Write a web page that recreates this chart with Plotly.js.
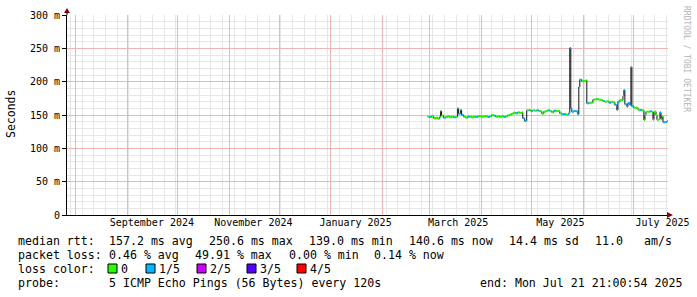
<!DOCTYPE html>
<html><head><meta charset="utf-8">
<script src="https://cdn.plot.ly/plotly-3.0.1.min.js"></script>
<style>html,body{margin:0;padding:0;background:#fff}</style>
</head><body><div id="chart" style="width:697px;height:297px"></div>
<script>
// ---- data ----
const times = ["2025-02-27 20:00","2025-03-01 01:00","2025-03-02 06:00","2025-03-03 11:00","2025-03-04 16:00","2025-03-05 21:00","2025-03-07 01:00","2025-03-07 16:00","2025-03-08 06:00","2025-03-09 11:00","2025-03-10 16:00","2025-03-11 21:00","2025-03-13 01:00","2025-03-14 06:00","2025-03-15 11:00","2025-03-16 16:00","2025-03-17 21:00","2025-03-18 11:00","2025-03-19 16:00","2025-03-20 06:00","2025-03-21 11:00","2025-03-22 16:00","2025-03-23 21:00","2025-03-25 01:00","2025-03-26 06:00","2025-03-27 11:00","2025-03-28 16:00","2025-03-29 21:00","2025-03-31 01:00","2025-04-01 06:00","2025-04-02 11:00","2025-04-03 16:00","2025-04-04 21:00","2025-04-06 01:00","2025-04-07 06:00","2025-04-08 11:00","2025-04-09 16:00","2025-04-10 21:00","2025-04-12 01:00","2025-04-13 06:00","2025-04-14 11:00","2025-04-15 16:00","2025-04-16 21:00","2025-04-18 01:00","2025-04-19 06:00","2025-04-20 11:00","2025-04-21 16:00","2025-04-22 21:00","2025-04-24 01:00","2025-04-25 06:00","2025-04-25 21:00","2025-04-27 01:00","2025-04-28 06:00","2025-04-29 11:00","2025-04-30 16:00","2025-05-01 21:00","2025-05-03 01:00","2025-05-04 06:00","2025-05-05 11:00","2025-05-06 16:00","2025-05-07 06:00","2025-05-08 11:00","2025-05-09 16:00","2025-05-10 21:00","2025-05-12 01:00","2025-05-13 06:00","2025-05-14 11:00","2025-05-15 16:00","2025-05-16 21:00","2025-05-18 01:00","2025-05-19 06:00","2025-05-20 11:00","2025-05-21 16:00","2025-05-22 21:00","2025-05-23 11:00","2025-05-24 01:00","2025-05-24 16:00","2025-05-25 06:00","2025-05-26 11:00","2025-05-27 16:00","2025-05-28 21:00","2025-05-29 11:00","2025-05-30 01:00","2025-05-31 06:00","2025-06-01 11:00","2025-06-02 16:00","2025-06-03 06:00","2025-06-04 11:00","2025-06-05 16:00","2025-06-06 21:00","2025-06-08 01:00","2025-06-09 06:00","2025-06-10 11:00","2025-06-11 16:00","2025-06-12 21:00","2025-06-14 01:00","2025-06-15 06:00","2025-06-16 11:00","2025-06-17 16:00","2025-06-18 21:00","2025-06-20 01:00","2025-06-21 06:00","2025-06-21 21:00","2025-06-23 01:00","2025-06-24 06:00","2025-06-24 21:00","2025-06-25 11:00","2025-06-26 01:00","2025-06-27 06:00","2025-06-27 21:00","2025-06-29 01:00","2025-06-29 16:00","2025-06-30 06:00","2025-07-01 11:00","2025-07-02 16:00","2025-07-03 21:00","2025-07-05 01:00","2025-07-06 06:00","2025-07-07 11:00","2025-07-08 01:00","2025-07-08 16:00","2025-07-09 21:00","2025-07-11 01:00","2025-07-12 06:00","2025-07-12 21:00","2025-07-13 11:00","2025-07-14 16:00","2025-07-15 06:00","2025-07-16 11:00","2025-07-17 01:00","2025-07-17 16:00","2025-07-18 06:00","2025-07-18 21:00","2025-07-20 01:00","2025-07-21 06:00"];
const medianMs = [147.5,147,148,145,146,144.5,147,156,149,146,147,148,146.5,147.5,146.5,147,160,152,157.5,150,147.5,146,147.5,147.5,146.5,147.5,147,148,148.5,147.5,148,148,147,148,150,149,147.5,148,147,148,147,148,149.5,150.5,152,153.5,152.5,154,153,154,145,141,157,157.5,156,157,156.5,157,156,155.5,152,155,156,157,156,154,156.5,156,156,152.5,151,151.5,150.5,151,153,250.6,160,155,156,155.5,151,192,203,200.5,201,202,167.5,168,168.5,173,173.5,174,173,172.5,171,170,170.5,168.5,170,169,165,157.5,170,172.5,172,178,187.5,166,162.5,168,165,222,163,161,161,158,157.5,157,142.5,150,155,155,155.5,154.5,143,155,150,143,144,154,143.5,148,139,139.5,140.6];
const lossIdx = [0,1,0,0,0,0,0,0,0,1,0,0,0,0,1,0,0,1,1,1,0,0,1,0,0,0,1,0,0,0,0,0,1,0,0,1,0,0,0,0,1,0,0,0,0,0,1,0,0,0,1,1,0,0,1,0,0,1,0,0,0,0,0,1,0,0,1,0,0,0,1,1,0,1,1,1,1,1,1,1,1,1,1,0,0,0,1,0,0,0,0,0,0,0,1,0,0,1,0,0,1,1,1,0,0,0,1,1,1,1,1,1,1,0,0,0,1,0,0,0,0,0,1,0,0,0,0,0,0,1,0,0,1,1,1];
const endTime = "2025-07-21 21:00";
const startTime = "2024-07-26 21:00";

const monthLabelDates = ["2024-09-15 17:00","2024-11-15 12:00","2025-01-15 17:00","2025-03-18 05:00","2025-05-18 10:00","2025-07-18 14:00"];
const monthLabels = ["September 2024","November 2024","January 2025","March 2025","May 2025","July 2025"];
const yTickVals = [0,50,100,150,200,250,300];
const yTickText = ["0","50 m","100 m","150 m","200 m","250 m","300 m"];

const lossLabels = ["0","1/5","2/5","3/5","4/5"];
const lossColors = ["#26ff00","#00b8ff","#cc00ff","#5500ff","#ff0000"];

const rttStats = ["157.2 ms avg","250.6 ms max","139.0 ms min","140.6 ms now","14.4 ms sd","11.0","am/s"];
const lossStats = ["0.46 % avg","49.91 % max","0.00 % min","0.14 % now"];
const probeText = "5 ICMP Echo Pings (56 Bytes) every 120s";
const endText = "end: Mon Jul 21 21:00:54 2025";

// ---- geometry ----
const W=697,H=297,L=67,R=29,T=15,B=82;
const pw=W-L-R, ph=H-T-B;
const PX = p => (p-L)/pw;
const PY = p => (H-B-p)/ph;
const mono = "DejaVu Sans Mono";

// ---- traces (data on top axis layer x3) ----
const traces = [];
traces.push({x:[startTime], y:[0], type:'scatter', mode:'markers', marker:{opacity:0}, hoverinfo:'skip', showlegend:false});
traces.push({x:[startTime], y:[0], xaxis:'x2', type:'scatter', mode:'markers', marker:{opacity:0}, hoverinfo:'skip', showlegend:false});
traces.push({x: times.concat([endTime]), y: medianMs.concat([medianMs[medianMs.length-1]]), xaxis:'x3',
  type:'scatter', mode:'lines', line:{color:'#111111', width:1, shape:'hv'}, hoverinfo:'skip', showlegend:false});
for (let c=0;c<lossColors.length;c++){
  const xs=[], ys=[];
  for (let i=0;i<times.length;i++){
    if (lossIdx[i]!==c) continue;
    const t1 = i+1<times.length ? times[i+1] : endTime;
    xs.push(times[i], t1, null); ys.push(medianMs[i], medianMs[i], null);
  }
  if (xs.length) traces.push({x:xs, y:ys, xaxis:'x3', type:'scatter', mode:'lines', line:{color:lossColors[c], width:2}, hoverinfo:'skip', showlegend:false});
}

// ---- annotations ----
const ann = [];
const txt = (s,px,py,opt={}) => ann.push(Object.assign({text:s, x:PX(px), y:PY(py), xref:'paper', yref:'paper', xanchor:'left', yanchor:'middle', showarrow:false, font:{family:mono, size:11.6, color:'#000'}}, opt));
const r1=241,r2=255,r3=269,r4=283;
txt("median rtt:",16,r1);
[107,207,307,407,507,593,642].forEach((p,i)=>txt(rttStats[i],p,r1));
txt("packet loss:",16,r2);
[107,193,287,372].forEach((p,i)=>txt(lossStats[i],p,r2));
txt("loss color:",16,r3);
const boxX=[108,146,197,247,297];
const shapes=[];
lossLabels.forEach((lab,i)=>{
  txt(lab,boxX[i]+11,r3);
  shapes.push({type:'rect', xref:'paper', yref:'paper', x0:PX(boxX[i]), x1:PX(boxX[i]+9), y0:PY(273), y1:PY(264), fillcolor:lossColors[i], line:{color:'#000', width:1}});
});
txt("probe:",16,r4);
txt(probeText,107,r4);
txt(endText,478,r4);
ann.push({text:"Seconds", x:PX(11), y:PY(114), xref:'paper', yref:'paper', xanchor:'center', yanchor:'middle', textangle:-90, showarrow:false, font:{family:mono, size:11.5, color:'#000'}});
ann.push({text:"RRDTOOL / TOBI OETIKER", x:PX(686), y:PY(59), xref:'paper', yref:'paper', xanchor:'center', yanchor:'middle', textangle:90, showarrow:false, font:{family:mono, size:8, color:'#b4b4b4'}});

shapes.push({type:'path', xref:'paper', yref:'paper', xsizemode:'pixel', ysizemode:'pixel', xanchor:0, yanchor:1, path:'M -3,2 L 3,2 L 0,7 Z', fillcolor:'#8b0000', line:{width:0}});
shapes.push({type:'line', xref:'paper', yref:'paper', xsizemode:'pixel', ysizemode:'pixel', xanchor:0, yanchor:1, x0:0, x1:0, y0:0, y1:3, line:{color:'#000', width:1}});
shapes.push({type:'path', xref:'paper', yref:'paper', xsizemode:'pixel', ysizemode:'pixel', xanchor:1, yanchor:0, path:'M -1,-3 L -1,3 L 5,0 Z', fillcolor:'#8b0000', line:{width:0}});

const majorGrid='#f0b4b4', minorGrid='#e6e6e6';
const layout = {
  width:W, height:H, margin:{l:L, r:R, t:T, b:B, pad:0},
  paper_bgcolor:'#ffffff', plot_bgcolor:'#ffffff', showlegend:false,
  // weekly grey grid
  xaxis:{type:'date', range:[startTime,endTime], tick0:'2024-07-29', dtick:7*86400000, showticklabels:false, ticks:'',
    showgrid:true, gridcolor:minorGrid, gridwidth:1, zeroline:false,
    showline:true, linecolor:'#000', linewidth:1},
  // monthly red grid
  xaxis2:{type:'date', overlaying:'x', anchor:'y', side:'bottom', range:[startTime,endTime], tick0:'2024-08-01', dtick:'M1',
    showticklabels:false, ticks:'', showgrid:true, gridcolor:majorGrid, gridwidth:1, zeroline:false, showline:false},
  // labels + data
  xaxis3:{type:'date', overlaying:'x', anchor:'y', side:'bottom', range:[startTime,endTime], tickmode:'array', tickvals:monthLabelDates, ticktext:monthLabels,
    showgrid:false, zeroline:false, ticks:'', showline:false, tickfont:{family:mono, size:10, color:'#000'}},
  yaxis:{range:[0,300], tickmode:'array', tickvals:yTickVals, ticktext:yTickText, showgrid:true, gridcolor:majorGrid, gridwidth:1,
    zeroline:false, showline:true, linecolor:'#000', linewidth:1, ticks:'outside', ticklen:4, tickcolor:'#000', tickwidth:1,
    tickfont:{family:mono, size:10, color:'#000'},
    minor:{dtick:10, showgrid:true, gridcolor:minorGrid, gridwidth:1, ticks:''}},
  annotations:ann, shapes:shapes
};
Plotly.newPlot('chart', traces, layout, {staticPlot:true, displayModeBar:false});
</script>
</body></html>
